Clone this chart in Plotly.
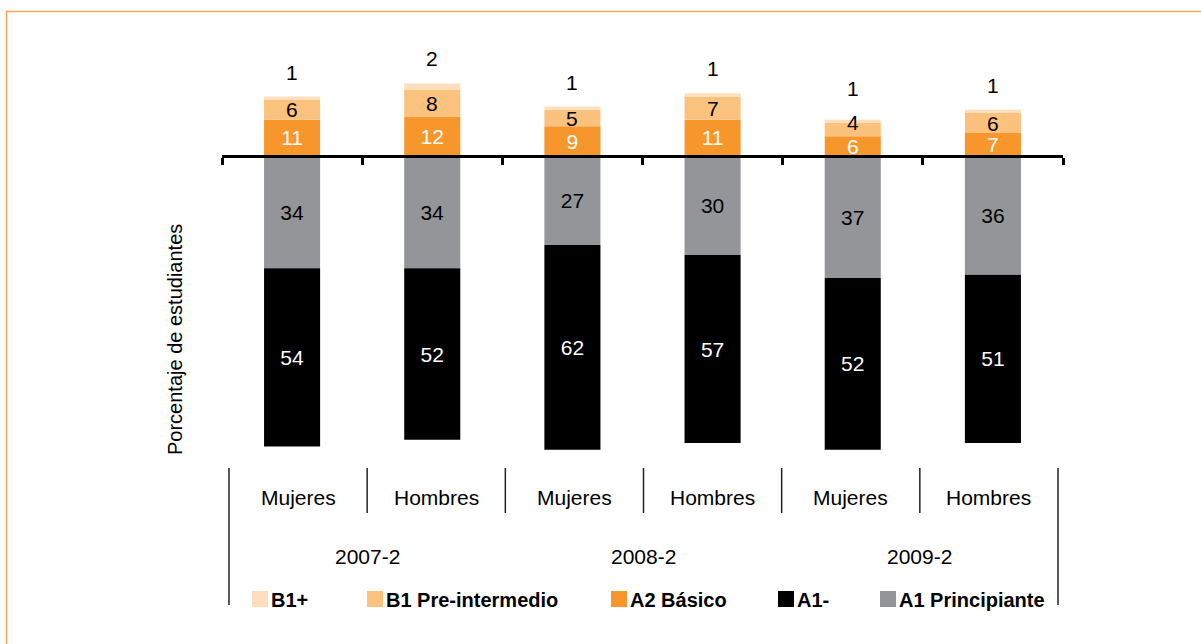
import plotly.graph_objects as go

# ---------------- data ----------------
categories = ["Mujeres", "Hombres", "Mujeres", "Hombres", "Mujeres", "Hombres"]
periods = ["2007-2", "2008-2", "2009-2"]
b1_plus = [1, 2, 1, 1, 1, 1]
b1_pre = [6, 8, 5, 7, 4, 6]
a2_basico = [11, 12, 9, 11, 6, 7]
a1_principiante = [34, 34, 27, 30, 37, 36]
a1_minus = [54, 52, 62, 57, 52, 51]
y_title = "Porcentaje de estudiantes"

# ---------------- styling / layout ----------------
W, H = 1201, 644
L, R = 222, 1063          # plot area left / right (px)
T, B = 40, 470            # plot area top / bottom (px)
ZERO_PX = 156             # pixel row of the zero line
PX_PER_UNIT = 3.3
FONT = "Liberation Sans, Arial, Helvetica, sans-serif"
NUM_SIZE = 21

col_b1p = "#FDDFBE"
col_b1 = "#FBC27E"
col_a2 = "#F7962B"
col_a1m = "#000000"
col_a1p = "#949599"

ymax = (ZERO_PX - T) / PX_PER_UNIT
ymin = -(B - ZERO_PX) / PX_PER_UNIT

def px_x(px):
    return (px - L) / (R - L)

def px_y(py):
    return (B - py) / (B - T)

x = list(range(len(categories)))
fig = go.Figure()

def add_bar(name, vals, color, sign, txtcolor, show_text=True):
    fig.add_trace(go.Bar(
        x=x, y=[sign * v for v in vals], name=name,
        marker=dict(color=color, line=dict(width=0)),
        text=[str(v) for v in vals] if show_text else None,
        textposition="inside" if show_text else "none",
        insidetextanchor="middle", textangle=0,
        textfont=dict(family=FONT, size=NUM_SIZE, color=txtcolor),
        width=0.4, showlegend=False, hoverinfo="skip",
    ))

add_bar("A2 Básico", a2_basico, col_a2, 1, "white")
add_bar("B1 Pre-intermedio", b1_pre, col_b1, 1, "black", show_text=False)
add_bar("B1+", b1_plus, col_b1p, 1, "black", show_text=False)
add_bar("A1 Principiante", a1_principiante, col_a1p, -1, "black")
add_bar("A1-", a1_minus, col_a1m, -1, "white")

annotations = []
shapes = []

for i in x:
    nudge = 7 if b1_pre[i] <= 4 else 0
    # B1 Pre-intermedio labels (centred in segment, nudged up when the segment is thin)
    mid = a2_basico[i] + b1_pre[i] / 2
    annotations.append(dict(x=i, y=mid, xref="x", yref="y", text=str(b1_pre[i]),
                            showarrow=False, yanchor="middle", yshift=nudge,
                            font=dict(family=FONT, size=NUM_SIZE, color="black")))
    # B1+ labels above stacks
    top = a2_basico[i] + b1_pre[i] + b1_plus[i]
    annotations.append(dict(x=i, y=top, xref="x", yref="y", text=str(b1_plus[i]),
                            showarrow=False, yanchor="bottom", yshift=11 + nudge,
                            font=dict(family=FONT, size=NUM_SIZE, color="black")))

# y title
annotations.append(dict(xref="paper", yref="paper", x=px_x(175), y=px_y(340),
                        text=y_title, textangle=-90, showarrow=False,
                        xanchor="center", yanchor="middle",
                        font=dict(family=FONT, size=20, color="black")))

# category table below
TAB_L, TAB_R = 229, 1058
cell = (TAB_R - TAB_L) / len(categories)
for i, c in enumerate(categories):
    cx = TAB_L + cell * (i + 0.5)
    annotations.append(dict(xref="paper", yref="paper", x=px_x(cx), y=px_y(497),
                            text=c, showarrow=False, xanchor="center", yanchor="middle",
                            font=dict(family=FONT, size=21, color="black")))
for j, p in enumerate(periods):
    cx = TAB_L + cell * (2 * j + 1)
    annotations.append(dict(xref="paper", yref="paper", x=px_x(cx), y=px_y(556),
                            text=p, showarrow=False, xanchor="center", yanchor="middle",
                            font=dict(family=FONT, size=21, color="black")))
for k in range(len(categories) + 1):
    xx = TAB_L + cell * k
    y_end = 605 if k in (0, len(categories)) else 513
    shapes.append(dict(type="line", xref="paper", yref="paper",
                       x0=px_x(xx), x1=px_x(xx), y0=px_y(468), y1=px_y(y_end),
                       line=dict(color="#222222", width=1.5)))

# manual legend
legend_items = [("B1+", col_b1p, 252), ("B1 Pre-intermedio", col_b1, 367),
                ("A2 Básico", col_a2, 611), ("A1-", col_a1m, 778),
                ("A1 Principiante", col_a1p, 880)]
LEG_Y = 599
for name, colr, lx in legend_items:
    shapes.append(dict(type="rect", xref="paper", yref="paper",
                       x0=px_x(lx), x1=px_x(lx + 16), y0=px_y(LEG_Y - 8), y1=px_y(LEG_Y + 8),
                       fillcolor=colr, line=dict(width=0)))
    annotations.append(dict(xref="paper", yref="paper", x=px_x(lx + 17), y=px_y(LEG_Y + 1),
                            text="<b>%s</b>" % name, showarrow=False,
                            xanchor="left", yanchor="middle",
                            font=dict(family=FONT, size=20, color="black")))

# orange frame
shapes.append(dict(type="rect", xref="paper", yref="paper",
                   x0=px_x(6.5), x1=px_x(1230), y0=px_y(11.5), y1=px_y(700),
                   line=dict(color="#F9A65A", width=1.5), fillcolor="rgba(0,0,0,0)",
                   layer="below"))

fig.update_layout(
    width=W, height=H, autosize=False,
    margin=dict(l=L, r=W - R, t=T, b=H - B, pad=0),
    paper_bgcolor="white", plot_bgcolor="white",
    barmode="relative", bargap=0.6,
    uniformtext=dict(minsize=NUM_SIZE, mode="show"),
    showlegend=False,
    annotations=annotations, shapes=shapes,
    font=dict(family=FONT, color="black"),
)
fig.update_xaxes(range=[-0.5, len(categories) - 0.5], anchor="free",
                 position=(0 - ymin) / (ymax - ymin),
                 showline=True, linecolor="black", linewidth=2.5,
                 ticks="outside", tickvals=[i - 0.5 for i in range(len(categories) + 1)],
                 ticklen=7, tickwidth=2.5, tickcolor="black",
                 showticklabels=False, showgrid=False, zeroline=False)
fig.update_yaxes(range=[ymin, ymax], visible=False, showgrid=False, zeroline=False)

fig.write_html("out.html", config={"displayModeBar": False},
               post_script="document.body.style.margin='0';")
